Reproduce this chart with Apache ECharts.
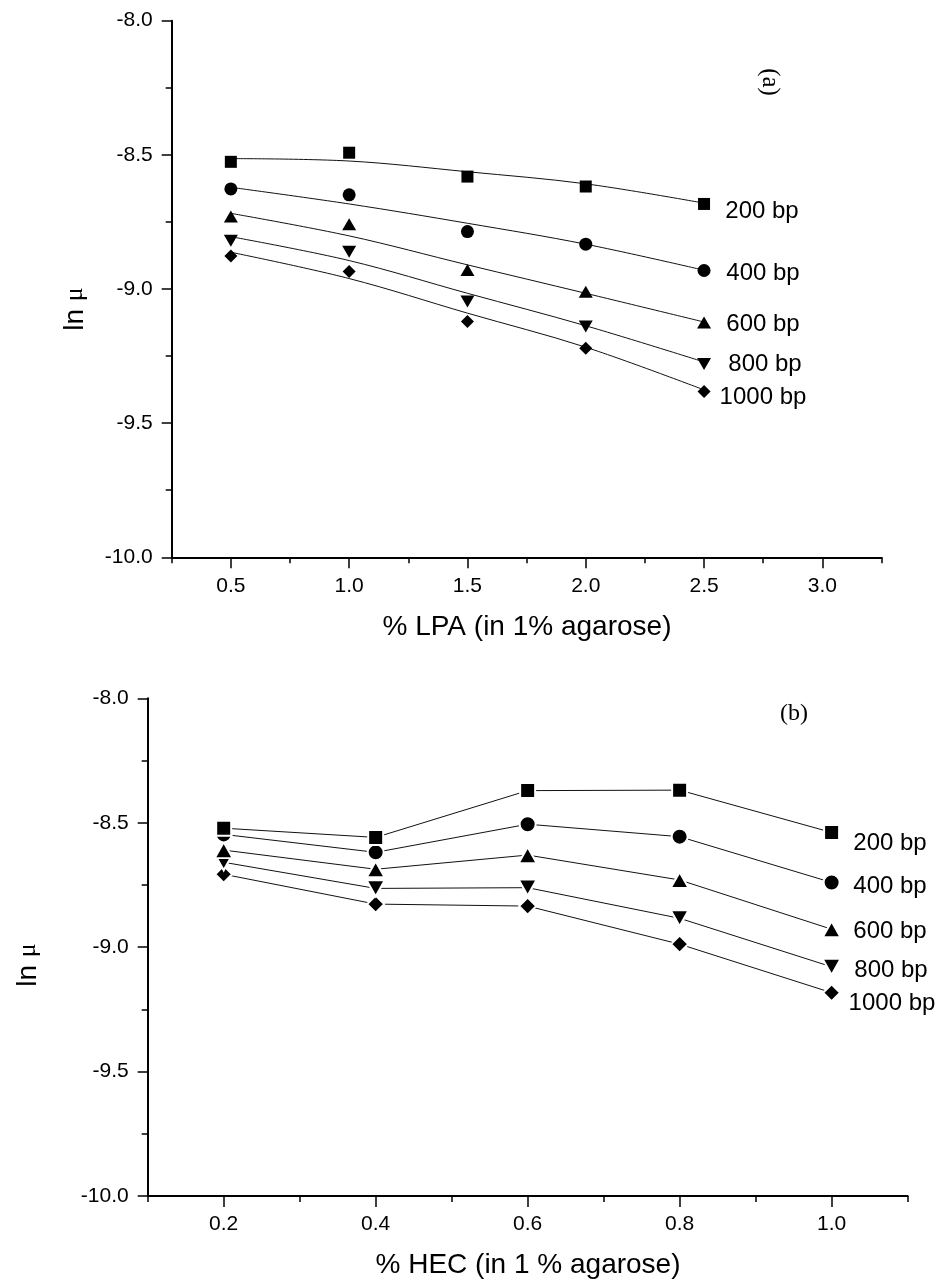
<!DOCTYPE html>
<html>
<head>
<meta charset="utf-8">
<script src="https://cdn.jsdelivr.net/npm/echarts@6/dist/echarts.min.js"></script>
<style>
html,body{margin:0;padding:0;background:#fff;}
#chart{width:939px;height:1284px;}
</style>
</head>
<body>
<div id="chart"></div>
<script>
// ---- Data (a): % LPA in 1% agarose ----
const lpaX = [0.5, 1.0, 1.5, 2.0, 2.5];
const lpa200  = [-8.526, -8.492, -8.581, -8.618, -8.683];
const lpa400  = [-8.627, -8.649, -8.786, -8.833, -8.931];
const lpa600  = [-8.730, -8.759, -8.929, -9.010, -9.125];
const lpa800  = [-8.820, -8.861, -9.047, -9.140, -9.280];
const lpa1000 = [-8.877, -8.935, -9.121, -9.221, -9.382];
// fitted curves as drawn in the figure (read at the same x)
const fit200  = [-8.514, -8.523, -8.563, -8.608, -8.680];
const fit400  = [-8.621, -8.683, -8.755, -8.833, -8.930];
const fit600  = [-8.718, -8.802, -8.910, -9.016, -9.123];
const fit800  = [-8.805, -8.894, -9.016, -9.137, -9.272];
const fit1000 = [-8.863, -8.961, -9.090, -9.217, -9.376];

// ---- Data (b): % HEC in 1 % agarose ----
const hecX = [0.2, 0.4, 0.6, 0.8, 1.0];
const hec200  = [-8.522, -8.559, -8.371, -8.369, -8.539];
const hec400  = [-8.547, -8.619, -8.506, -8.556, -8.740];
const hec600  = [-8.610, -8.687, -8.630, -8.730, -8.928];
const hec800  = [-8.659, -8.764, -8.761, -8.884, -9.079];
const hec1000 = [-8.707, -8.827, -8.835, -8.988, -9.183];

const sizeLabels = ['200 bp', '400 bp', '600 bp', '800 bp', '1000 bp'];

// ---- Tick values ----
const lpaMajorTicks = [0.5, 1.0, 1.5, 2.0, 2.5, 3.0];
const lpaMinorTicks = [0.25, 0.75, 1.25, 1.75, 2.25, 2.75, 3.25];
const hecMajorTicks = [0.2, 0.4, 0.6, 0.8, 1.0];
const hecMinorTicks = [0.1, 0.3, 0.5, 0.7, 0.9, 1.1];
const yMin = -10.0, yMax = -8.0, yStep = 0.5;

const pairs = (xs, ys) => xs.map((x, i) => [x, ys[i]]);

const SANS = 'Liberation Sans, Arial, sans-serif';
const SERIF = 'Liberation Serif, Times New Roman, serif';
const BLACK = '#000';

const symbols = [
  {symbol: 'rect', size: 12, rotate: 0},
  {symbol: 'circle', size: 13, rotate: 0},
  {symbol: 'triangle', size: [14, 12], rotate: 0},
  {symbol: 'triangle', size: [14, 12], rotate: 180},
  {symbol: 'diamond', size: 13, rotate: 0}
];
// bottom panel symbols (drawn with a white halo, so a little larger)
const symbolsB = [
  {symbol: 'rect', size: 15, rotate: 0},
  {symbol: 'circle', size: 16, rotate: 0},
  {symbol: 'triangle', size: [18, 16], rotate: 0},
  {symbol: 'triangle', size: [18, 16], rotate: 180},
  {symbol: 'diamond', size: 17, rotate: 0}
];

function xAxes(gridIndex, min, max, major, minor) {
  return [
    {
      type: 'value', gridIndex, min, max, position: 'bottom',
      axisLine: {show: true, onZero: false, lineStyle: {color: BLACK, width: 2}},
      axisTick: {show: true, length: 11, lineStyle: {color: BLACK, width: 1.5}, customValues: major},
      axisLabel: {show: true, customValues: major, margin: 18, fontFamily: SANS, fontSize: 21, color: BLACK,
        formatter: v => v.toFixed(1)},
      splitLine: {show: false}
    },
    {
      type: 'value', gridIndex, min, max, position: 'bottom',
      axisLine: {show: false},
      axisTick: {show: true, length: 6, lineStyle: {color: BLACK, width: 1.5}, customValues: minor},
      axisLabel: {show: false},
      splitLine: {show: false}
    }
  ];
}

function yAxis(gridIndex) {
  return {
    type: 'value', gridIndex, min: yMin, max: yMax, interval: yStep,
    axisLine: {show: true, onZero: false, lineStyle: {color: BLACK, width: 2}},
    axisTick: {show: true, length: 10, lineStyle: {color: BLACK, width: 1.5}},
    minorTick: {show: true, splitNumber: 2, length: 6, lineStyle: {color: BLACK, width: 1.5}},
    axisLabel: {margin: 19, fontFamily: SANS, fontSize: 21, color: BLACK, formatter: v => v.toFixed(1)},
    splitLine: {show: false},
    minorSplitLine: {show: false}
  };
}

const lpaSets = [lpa200, lpa400, lpa600, lpa800, lpa1000];
const fitSets = [fit200, fit400, fit600, fit800, fit1000];
const hecSets = [hec200, hec400, hec600, hec800, hec1000];

const series = [];
fitSets.forEach((ys, i) => {
  series.push({
    type: 'line', name: 'fit ' + sizeLabels[i], xAxisIndex: 0, yAxisIndex: 0,
    data: pairs(lpaX, ys), smooth: 0.35, showSymbol: false, symbol: 'none',
    lineStyle: {color: '#111', width: 1}, silent: true, z: 2
  });
});
lpaSets.forEach((ys, i) => {
  series.push({
    type: 'scatter', name: sizeLabels[i], xAxisIndex: 0, yAxisIndex: 0,
    data: pairs(lpaX, ys), symbol: symbols[i].symbol, symbolSize: symbols[i].size,
    symbolRotate: symbols[i].rotate, itemStyle: {color: BLACK, opacity: 1}, z: 3
  });
});
// draw 1000 bp first so 200 bp ends up on top (as in the figure)
for (let i = hecSets.length - 1; i >= 0; i--) {
  const s = symbolsB[i];
  series.push({
    type: 'line', name: sizeLabels[i], xAxisIndex: 2, yAxisIndex: 1,
    data: pairs(hecX, hecSets[i]), symbol: s.symbol, symbolSize: s.size, symbolRotate: s.rotate,
    showSymbol: true, lineStyle: {color: '#111', width: 1},
    itemStyle: {color: BLACK, opacity: 1, borderColor: '#fff', borderWidth: 2}, z: 3
  });
}

// annotation texts
const txt = (x, y, text, font, size, extra) => Object.assign({
  type: 'text', x, y, silent: true,
  style: {text, font: size + 'px ' + font, fill: BLACK, align: 'center', verticalAlign: 'middle'}
}, extra || {});

const topLabelPos = [[762, 211], [763, 273], [763, 324], [765, 364], [763, 397]];
const botLabelPos = [[890, 843], [890, 886], [890, 931], [891, 970], [892, 1003]];

const graphics = [];
sizeLabels.forEach((t, i) => {
  graphics.push(txt(topLabelPos[i][0], topLabelPos[i][1], t, SANS, 24));
  graphics.push(txt(botLabelPos[i][0], botLabelPos[i][1], t, SANS, 24));
});
graphics.push(txt(527, 627, '% LPA (in 1% agarose)', SANS, 28));
graphics.push(txt(528, 1265, '% HEC (in 1 % agarose)', SANS, 28));
graphics.push(txt(770, 82, '(a)', SERIF, 25, {rotation: -Math.PI / 2}));
graphics.push(txt(794, 714, '(b)', SERIF, 24));
function yTitle(x, y) {
  return {
    type: 'text', x, y, rotation: Math.PI / 2, silent: true,
    style: {
      text: '{a|ln }{b|μ}', align: 'center', verticalAlign: 'middle', fill: BLACK,
      rich: {a: {fontFamily: SANS, fontSize: 28, fill: BLACK}, b: {fontFamily: SERIF, fontSize: 26, fill: BLACK}}
    }
  };
}
graphics.push(yTitle(75, 309));
graphics.push(yTitle(28, 965));

const chart = echarts.init(document.getElementById('chart'), null, {renderer: 'canvas'});
chart.setOption({
  backgroundColor: '#fff',
  animation: false,
  grid: [
    {left: 171.7, right: 57.5, top: 20.7, bottom: 726.7, containLabel: false},
    {left: 147.7, right: 31.4, top: 698.3, bottom: 88, containLabel: false}
  ],
  xAxis: [].concat(
    xAxes(0, 0.25, 3.25, lpaMajorTicks, lpaMinorTicks),
    xAxes(1, 0.1, 1.1, hecMajorTicks, hecMinorTicks)
  ),
  yAxis: [yAxis(0), yAxis(1)],
  series,
  graphic: graphics
});
</script>
</body>
</html>
